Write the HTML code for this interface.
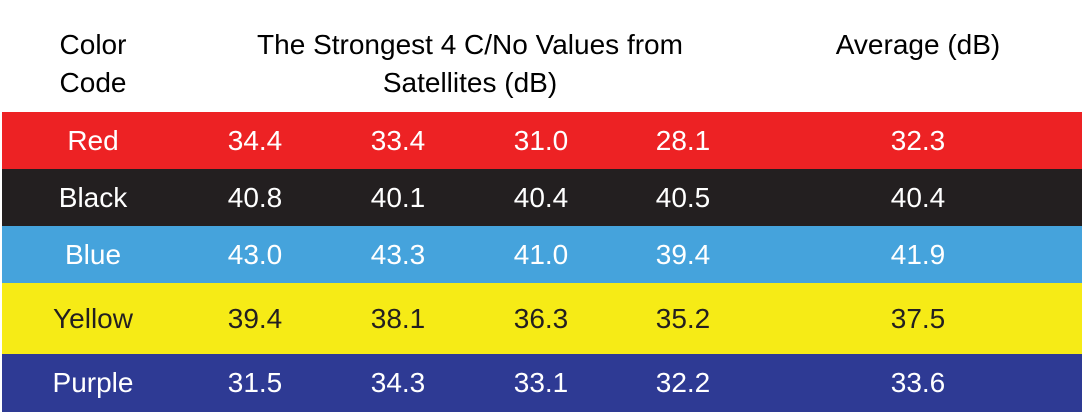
<!DOCTYPE html>
<html><head><meta charset="utf-8"><style>
body{margin:0;width:1084px;height:415px;background:#fff;position:relative;overflow:hidden;font-family:"Liberation Sans",sans-serif;font-size:28px}
.t{position:absolute;transform:translate(-50%,-50%);white-space:nowrap;line-height:1}
.row{position:absolute;left:2px;width:1080px}
</style></head><body>
<div class="t" style="left:93px;top:45px">Color</div>
<div class="t" style="left:93px;top:83px">Code</div>
<div class="t" style="left:470px;top:45px">The Strongest 4 C/No Values from</div>
<div class="t" style="left:470px;top:83px">Satellites (dB)</div>
<div class="t" style="left:918px;top:45px">Average (dB)</div>
<div id="tbl"></div>
<script>
const labels=["Red","Black","Blue","Yellow","Purple"];
const v1=["34.4","40.8","43.0","39.4","31.5"];
const v2=["33.4","40.1","43.3","38.1","34.3"];
const v3=["31.0","40.4","41.0","36.3","33.1"];
const v4=["28.1","40.5","39.4","35.2","32.2"];
const avg=["32.3","40.4","41.9","37.5","33.6"];
const bg=["#ed2224","#231f20","#45a3dc","#f6eb16","#2e3a94"];
const fg=["#fff","#fff","#fff","#231f20","#fff"];
const tops=[112,169,226,283,354],bots=[169,226,283,354,412];
const xs=[93,255,398,541,683,918];
const tbl=document.getElementById('tbl');
labels.forEach((l,i)=>{
 const r=document.createElement('div');
 r.className='row';
 
 
 r.style.top=tops[i]+'px';r.style.height=(bots[i]-tops[i])+'px';r.style.background=bg[i];
 tbl.appendChild(r);
 const vals=[l,v1[i],v2[i],v3[i],v4[i],avg[i]];
 vals.forEach((v,j)=>{
  const c=document.createElement('div');
  c.className='t';
  
  
  c.textContent=v;c.style.color=fg[i];
  c.style.left=xs[j]+'px';c.style.top=((tops[i]+bots[i])/2)+'px';
  tbl.appendChild(c);
 });
});
</script>
</body></html>
